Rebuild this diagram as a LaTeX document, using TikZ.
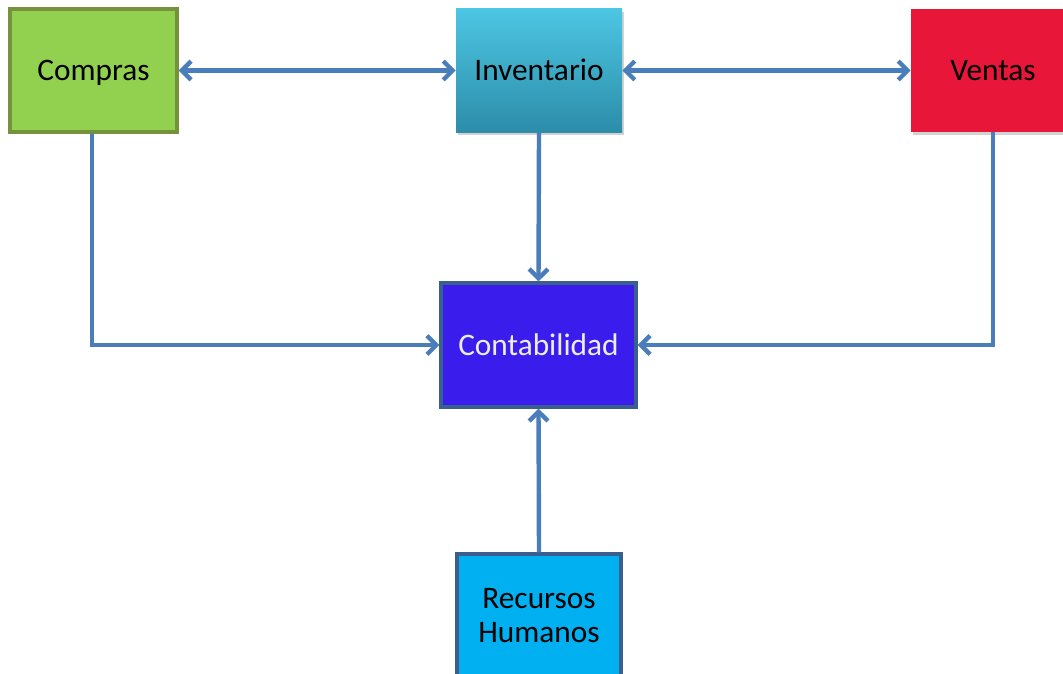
\documentclass[tikz,border=0pt]{standalone}
\usepackage{fontspec}
\setmainfont{Carlito}
\usetikzlibrary{arrows.meta,shadows}

\definecolor{flow}{HTML}{4A7EBB}
\definecolor{comprasfill}{HTML}{92D050}
\definecolor{comprasedge}{HTML}{76923C}
\definecolor{invtop}{HTML}{4CC6E3}
\definecolor{invbottom}{HTML}{2C8DA9}
\definecolor{ventasfill}{HTML}{E8173A}
\definecolor{contfill}{HTML}{3A1CEC}
\definecolor{boxedge}{HTML}{3A5F8E}
\definecolor{rhfill}{HTML}{00B0F0}

\tikzset{
  dept/.style={rectangle, align=center, inner sep=0pt,
    font=\fontsize{23.5}{28}\selectfont,
    minimum width=#1},
  dept/.default={124pt},
  oneline/.style={text height=17pt, text depth=1.5pt},
  flowline/.style={draw=flow, line width=3.3pt,
    arrows={-Straight Barb[length=7pt,width=14pt]}},
  twoway/.style={flowline, arrows={Straight Barb[length=7pt,width=14pt]-Straight Barb[length=7pt,width=14pt]}},
}

\begin{document}
\begin{tikzpicture}[x=0.75pt,y=-0.75pt]
  \clip (0,0) rectangle (1063,674);
  \fill[white] (0,0) rectangle (1063,674);

  % departments
  \node[dept={167*0.75pt}, oneline, minimum height={123*0.75pt},
        fill=comprasfill, draw=comprasedge, line width=2.3pt]
        (compras) at (93.5,70.5) {Compras};
  \node[dept={166*0.75pt}, oneline, minimum height={123*0.75pt},
        top color=invtop, bottom color=invbottom,
        drop shadow={shadow xshift=1.5pt, shadow yshift=-2pt, opacity=0.35}]
        (inventario) at (539,70.5) {Inventario};
  \node[dept={164*0.75pt}, oneline, minimum height={123*0.75pt}, fill=ventasfill,
        drop shadow={shadow xshift=1.5pt, shadow yshift=-2pt, opacity=0.35}]
        (ventas) at (993,70.5) {Ventas};
  \node[dept={195*0.75pt}, oneline, minimum height={124*0.75pt},
        fill=contfill, draw=boxedge, line width=2.3pt, text=white!93!black]
        (contabilidad) at (538.5,345) {Contabilidad};
  \node[dept={164*0.75pt}, minimum height={123*0.75pt},
        fill=rhfill, draw=boxedge, line width=2.3pt]
        (rrhh) at (539,615.5) {Recursos\\[-2pt]Humanos};

  % information flows
  \draw[twoway] (compras.east) -- (inventario.west);
  \draw[twoway] (inventario.east) -- (ventas.west);
  \draw[flowline] (inventario.south) -- (contabilidad.north);
  \draw[flowline] ([xshift=-1pt]compras.south) |- (contabilidad.west);
  \draw[flowline] (ventas.south) |- (contabilidad.east);
  \draw[flowline] (rrhh.north) -- (contabilidad.south);
\end{tikzpicture}
\end{document}
